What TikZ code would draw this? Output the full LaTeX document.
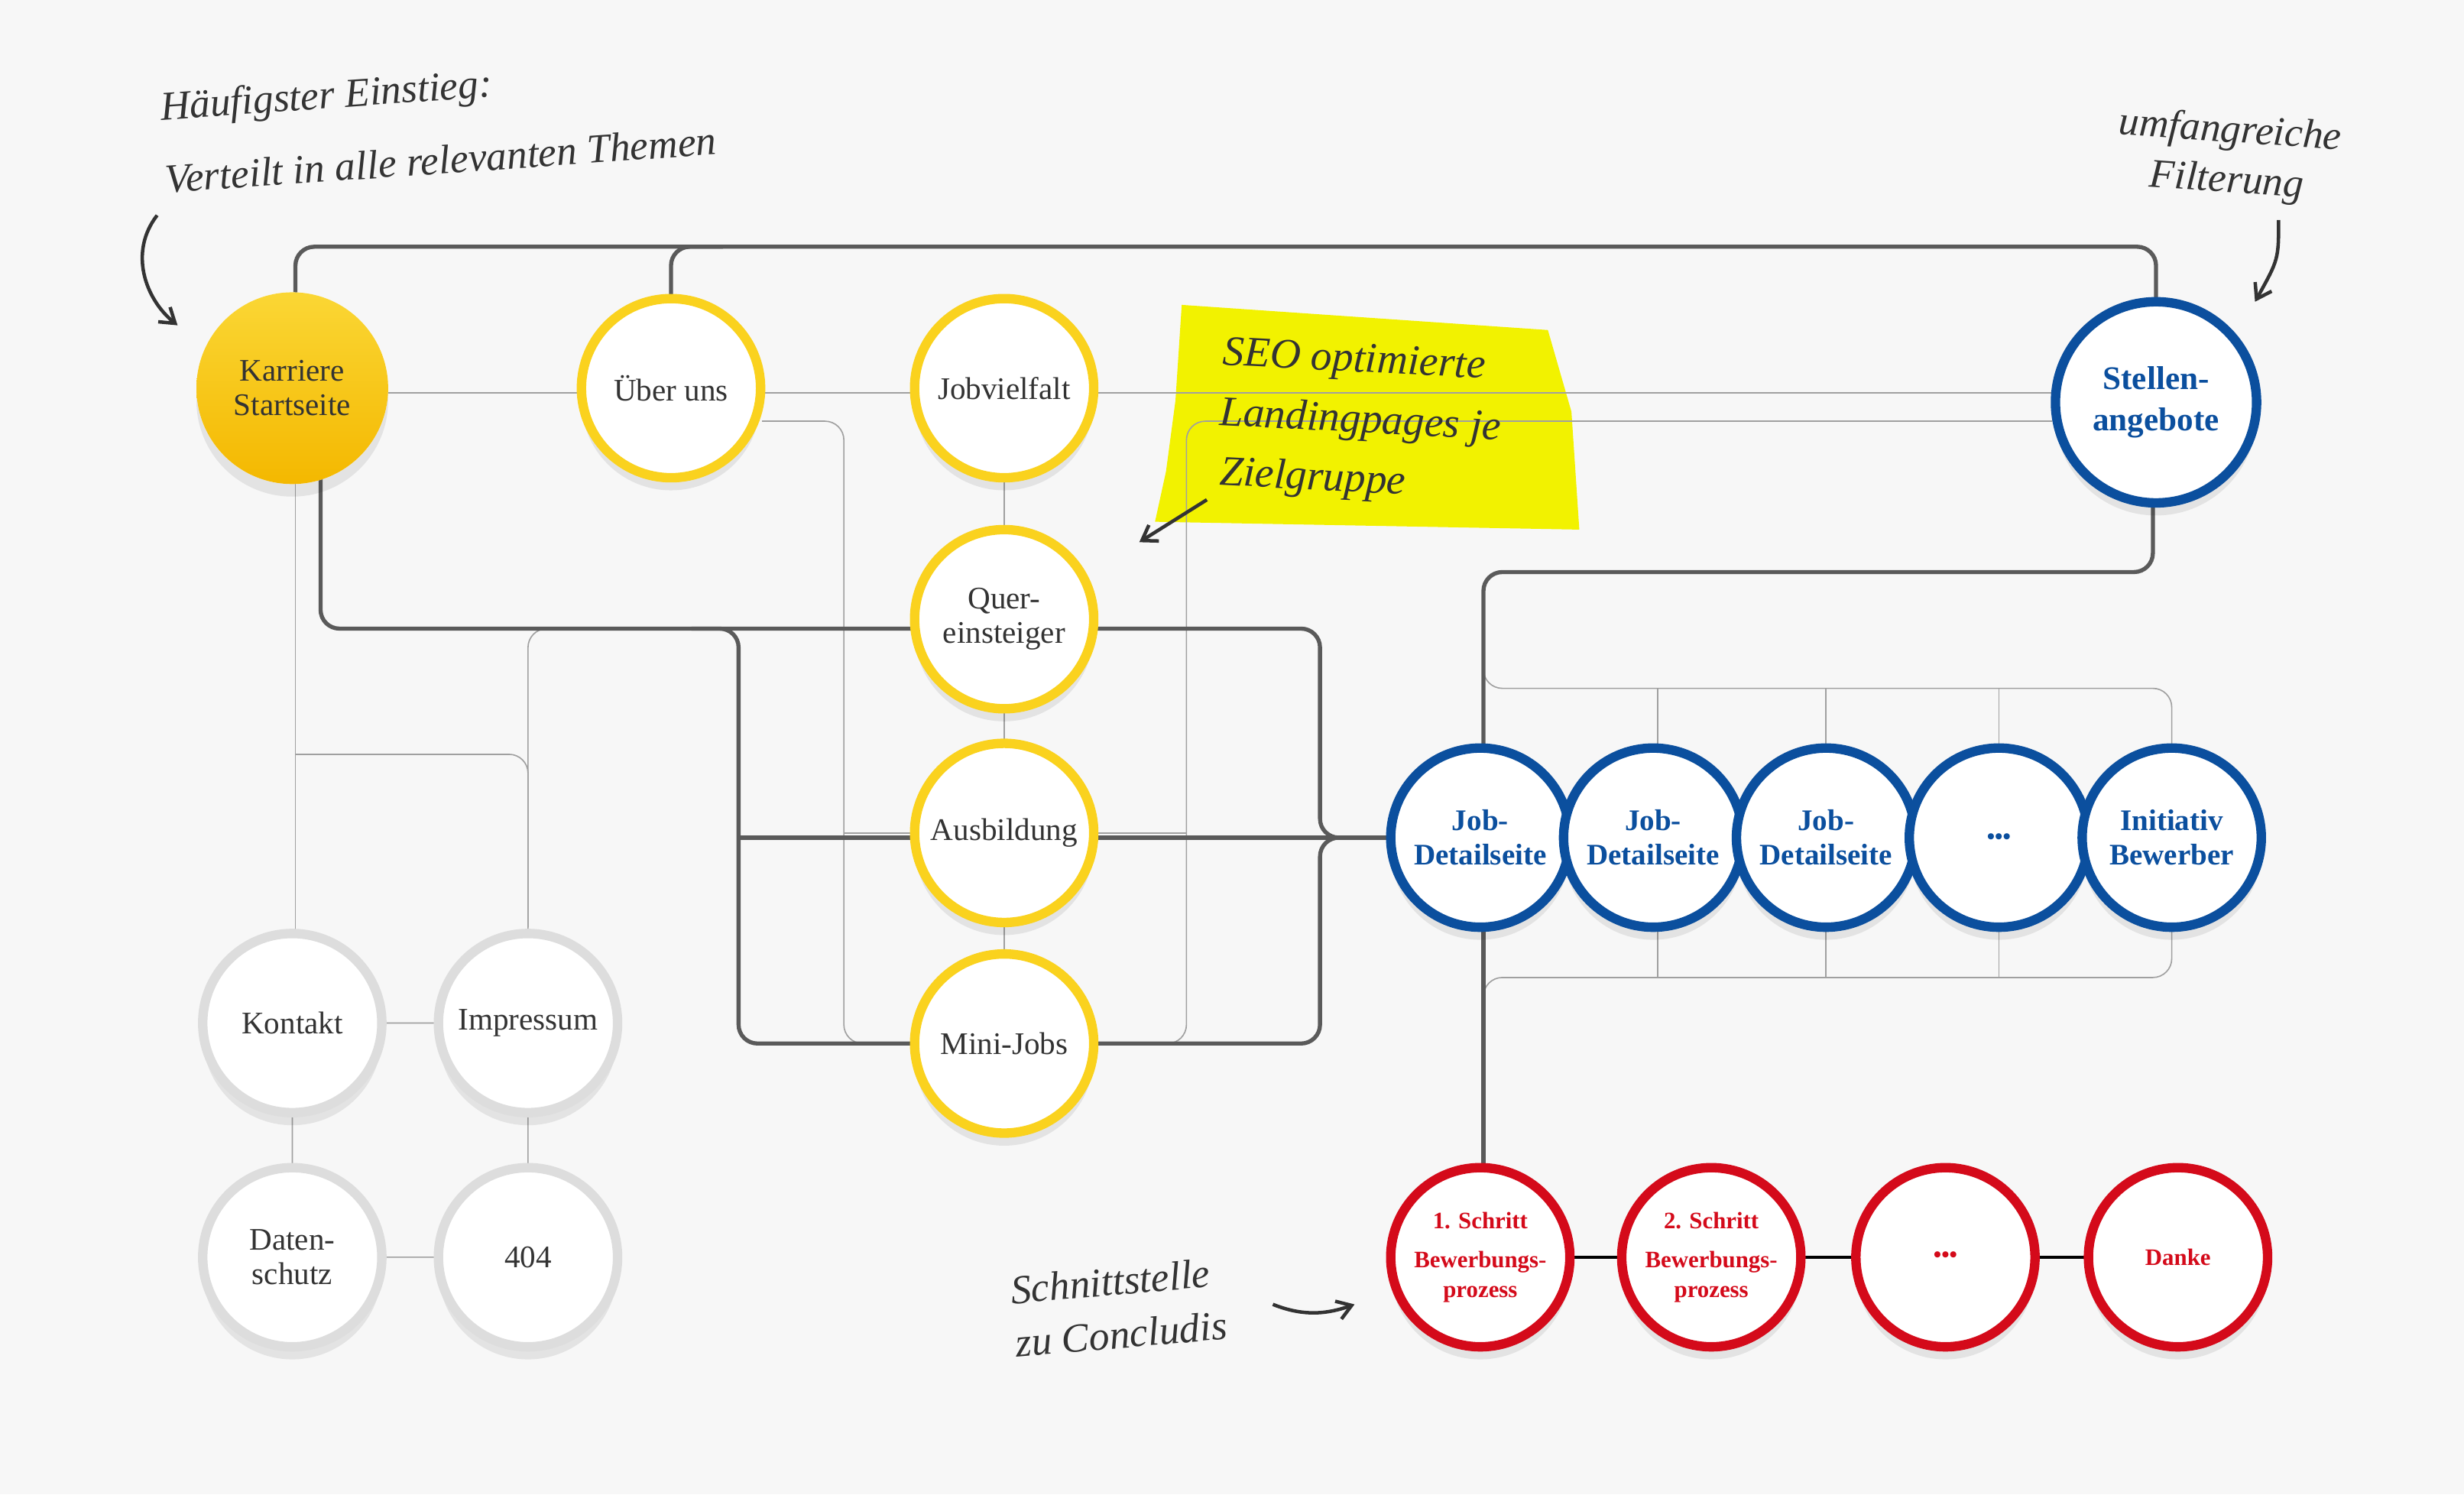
\documentclass[tikz,border=0pt]{standalone}
\usepackage{fontspec}
\setmainfont{Liberation Serif}
\usetikzlibrary{shadows,arrows.meta}
\definecolor{bg}{HTML}{F7F7F7}
\definecolor{yel}{HTML}{FAD21E}
\definecolor{yeld}{HTML}{F4B800}
\definecolor{blu}{HTML}{0B4F9E}
\definecolor{rd}{HTML}{D40A1A}
\definecolor{gry}{HTML}{DDDDDD}
\definecolor{thick}{HTML}{5A5A5A}
\definecolor{thin}{HTML}{A0A0A0}
\definecolor{hl}{HTML}{F2F200}
\definecolor{ink}{HTML}{333333}
\begin{document}
\begin{tikzpicture}[x=1pt,y=-1pt,
  base/.style={circle,minimum size=114pt,inner sep=0pt,align=center,fill=white,line width=6pt,
     font=\fontsize{20}{22}\selectfont,text=ink,
     drop shadow={shadow xshift=0pt,shadow yshift=-8pt,opacity=0.08,fill=black}},
  yn/.style={base,draw=yel},
  gn/.style={base,draw=gry},
  bn/.style={base,draw=blu,text=blu,font=\fontsize{19}{22}\selectfont\bfseries},
  rn/.style={base,draw=rd,text=rd,font=\fontsize{15}{19}\selectfont\bfseries},
  thk/.style={draw=thick,line width=2.6pt,rounded corners=12pt},
  thn/.style={draw=thin,line width=0.8pt,rounded corners=12pt},
  hand/.style={font=\fontsize{26}{30}\selectfont\itshape,text=ink,align=left,inner sep=0pt},
  harr/.style={draw=ink,line width=2.2pt,-{Straight Barb[length=9pt,width=12pt]}}]
\fill[bg] (0,0) rectangle (1568,951);
\useasboundingbox (0,0) rectangle (1568,951);
% highlight
\fill[hl] (752,194) -- (985,210) -- (1000,262) -- (1005,337) -- (735,332) -- (742,300) -- (748,255) -- cycle;
% thin lines
\draw[thn] (188,250) -- (1306,250);
\draw[thn] (1306,268) -- (755,268) -- (755,664) -- (698,664);
\draw[thn] (755,400) -- (698,400);
\draw[thn] (755,530) -- (698,530);
\draw[thn] (485,268) -- (537,268) -- (537,664) -- (580,664);
\draw[thn] (537,400) -- (580,400);
\draw[thn] (537,530) -- (580,530);
\draw[thn] (639,247) -- (639,664);
\draw[thn] (188,307) -- (188,651);
\draw[thn] (188,480) -- (336,480) -- (336,590);
\draw[thn] (336,651) -- (336,400) -- (360,400);
\draw[thn] (186,651) -- (336,651) -- (336,800) -- (186,800) -- cycle;
\draw[thn] (944,420) -- (944,438) -- (1382,438) -- (1382,480);
\foreach \x in {1055,1162,1272} \draw[thn] (\x,438) -- (\x,480);
\draw[thn] (944,640) -- (944,622) -- (1382,622) -- (1382,590);
\foreach \x in {1055,1162,1272} \draw[thn] (\x,622) -- (\x,590);
% thick lines
\draw[thk] (188,200) -- (188,157) -- (1372,157) -- (1372,200);
\draw[thk] (427,200) -- (427,157) -- (460,157);
\draw[thk] (204,300) -- (204,400) -- (580,400);
\draw[thk] (440,400) -- (470,400) -- (470,664) -- (580,664);
\draw[thk] (470,533) -- (580,533);
\draw[thk] (698,400) -- (840,400) -- (840,533) -- (884,533);
\draw[thk] (698,533) -- (884,533);
\draw[thk] (698,664) -- (840,664) -- (840,533) -- (860,533);
\draw[thk] (1370,320) -- (1370,364) -- (944,364) -- (944,480);
\draw[thk] (944,590) -- (944,745);
\draw[line width=1.6pt,black] (942,800) -- (1386,800);
% nodes
\node[base,draw=none,top color=yel!90!white,bottom color=yeld,minimum size=122pt] (k) at (186,247) {Karriere\\Startseite};
\node[yn] (u) at (427,247) {Über uns};
\node[yn] (j) at (639,247) {Jobvielfalt};
\node[yn] (q) at (639,394) {Quer-\\einsteiger};
\node[yn] (a) at (639,530) {Ausbildung};
\node[yn] (m) at (639,664) {Mini-Jobs};
\node[bn,minimum size=128pt,font=\fontsize{21}{26}\selectfont\bfseries] (s) at (1372,256) {Stellen-\\angebote};
\node[bn] (d1) at (942,533) {Job-\\Detailseite};
\node[bn] (d2) at (1052,533) {Job-\\Detailseite};
\node[bn] (d3) at (1162,533) {Job-\\Detailseite};
\node[bn] (d4) at (1272,533) {\raisebox{-8pt}{\Large •••}};
\node[bn] (d5) at (1382,533) {Initiativ\\Bewerber};
\node[rn] (r1) at (942,800) {1. Schritt\\[6pt]Bewerbungs-\\prozess};
\node[rn] (r2) at (1089,800) {2. Schritt\\[6pt]Bewerbungs-\\prozess};
\node[rn] (r3) at (1238,800) {\Large •••};
\node[rn] (r4) at (1386,800) {Danke};
\node[gn] (c) at (186,651) {Kontakt};
\node[gn] (i) at (336,651) {Impressum};
\node[gn] (ds) at (186,800) {Daten-\\schutz};
\node[gn] (e) at (336,800) {404};
% annotations
\node[hand,anchor=west,rotate=4] (h1) at (102,70) {Häufigster Einstieg:};
\node[hand,anchor=west,rotate=4] (h2) at (105,114) {Verteilt in alle relevanten Themen};
\coordinate (h1a) at (100,137); \coordinate (h1b) at (113,207);
\draw[harr] (h1a) .. controls (82,160) and (92,190) .. (h1b);
\node[hand,align=center,rotate=-4,font=\fontsize{26}{32}\selectfont\itshape] (f) at (1418,100) {umfangreiche\\Filterung};
\coordinate (fa) at (1450,140); \coordinate (fb) at (1435,192);
\draw[harr] (fa) .. controls (1450,165) .. (fb);
\node[hand,anchor=west,rotate=-3,font=\fontsize{27}{30}\selectfont\itshape] (seo1) at (778,226) {SEO optimierte};
\node[hand,anchor=west,rotate=-3,font=\fontsize{27}{30}\selectfont\itshape] (seo2) at (776,264) {Landingpages je};
\node[hand,anchor=west,rotate=-3,font=\fontsize{27}{30}\selectfont\itshape] (seo3) at (776,302) {Zielgruppe};
\coordinate (sa) at (768,318); \coordinate (sb) at (725,345);
\draw[harr] (sa) -- (sb);
\node[hand,rotate=5,font=\fontsize{26}{34}\selectfont\itshape] (sc) at (712,832) {Schnittstelle\\zu Concludis};
\coordinate (ca) at (810,830); \coordinate (cb) at (862,830);
\draw[harr] (ca) .. controls (830,838) and (845,836) .. (cb);
\end{tikzpicture}
\end{document}
